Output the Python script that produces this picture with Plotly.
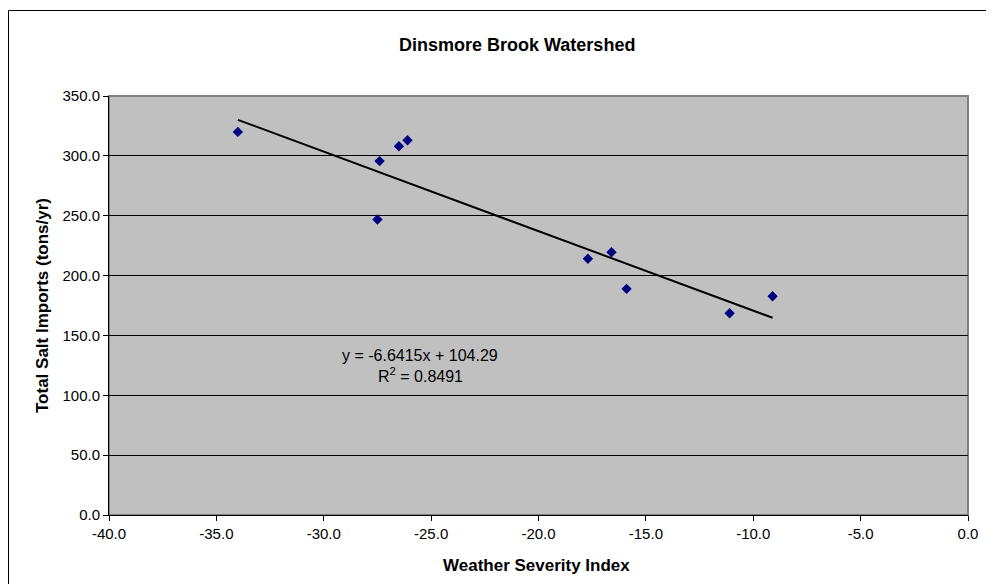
import plotly.graph_objects as go

# Data
weather_index = [-34.0, -27.4, -26.5, -26.1, -27.5, -17.7, -16.6, -15.9, -11.1, -9.1]
salt_imports = [320.0, 295.6, 308.0, 313.0, 246.9, 214.0, 219.5, 188.9, 168.5, 182.7]

# Linear trend line as stated on the chart
slope = -6.6415
intercept = 104.29
r_squared = 0.8491

x_ticks = [-40, -35, -30, -25, -20, -15, -10, -5, 0]
y_ticks = [0, 50, 100, 150, 200, 250, 300, 350]
x_ticktext = [f"{v:.1f}" for v in x_ticks]
y_ticktext = [f"{v:.1f}" for v in y_ticks]

# The page body adds an 8px offset, so the figure is sized to fit the window
OFF = 8
W, H = 994 - OFF, 584 - OFF
L, R, T, B = 109, 968, 96, 515  # plot area in page pixels


def px(x):
    return (x - L) / (R - L)


def py(y):
    return (B - y) / (B - T)


trend_x = [min(weather_index), max(weather_index)]
trend_y = [slope * v + intercept for v in trend_x]

fig = go.Figure()
fig.add_trace(go.Scatter(
    x=trend_x, y=trend_y, mode="lines",
    line=dict(color="black", width=2), hoverinfo="skip", showlegend=False,
))
fig.add_trace(go.Scatter(
    x=weather_index, y=salt_imports, mode="markers",
    marker=dict(symbol="diamond", size=8, color="#000080"),
    showlegend=False,
))

font_family = "Liberation Sans, Arial, sans-serif"

fig.update_layout(
    width=W, height=H,
    margin=dict(l=L - OFF, r=994 - R, t=T - OFF, b=584 - B),
    paper_bgcolor="white",
    plot_bgcolor="#C0C0C0",
    font=dict(family=font_family, size=15, color="black"),
    xaxis=dict(
        range=[-40, 0], tickvals=x_ticks, ticktext=x_ticktext,
        ticks="outside", ticklen=5, tickcolor="black",
        showline=True, linecolor="black", linewidth=1,
        showgrid=False, zeroline=False, tickfont=dict(size=15),
    ),
    yaxis=dict(
        range=[0, 350], tickvals=y_ticks, ticktext=y_ticktext,
        ticks="outside", ticklen=5, tickcolor="black",
        showline=True, linecolor="black", linewidth=1,
        showgrid=True, gridcolor="black", gridwidth=1,
        zeroline=False, tickfont=dict(size=15),
    ),
    shapes=[
        # plot area border (gray)
        dict(type="rect", xref="paper", yref="paper", x0=0, x1=1, y0=0, y1=1,
             line=dict(color="#808080", width=2), layer="below"),
        # chart frame
        dict(type="rect", xref="paper", yref="paper",
             x0=px(8.5), x1=px(988.5), y0=py(10.5), y1=py(600),
             line=dict(color="black", width=1)),
    ],
    annotations=[
        dict(text="<b>Dinsmore Brook Watershed</b>", xref="paper", yref="paper",
             x=px(517), y=py(45), showarrow=False, xanchor="center", yanchor="middle",
             font=dict(size=18)),
        dict(text="<b>Weather Severity Index</b>", xref="paper", yref="paper",
             x=px(536), y=py(565), showarrow=False, xanchor="center", yanchor="middle",
             font=dict(size=17)),
        dict(text="<b>Total Salt Imports (tons/yr)</b>", xref="paper", yref="paper",
             x=px(42), y=py(306), showarrow=False, xanchor="center", yanchor="middle",
             textangle=-90, font=dict(size=17)),
        dict(text=f"y = {slope}x + {intercept}", xref="paper", yref="paper",
             x=px(420), y=py(355), showarrow=False, xanchor="center", yanchor="middle",
             font=dict(size=16)),
        dict(text=f"R<sup>2</sup> = {r_squared}", xref="paper", yref="paper",
             x=px(420), y=py(375), showarrow=False, xanchor="center", yanchor="middle",
             font=dict(size=16)),
    ],
)

fig.write_html("out.html")
